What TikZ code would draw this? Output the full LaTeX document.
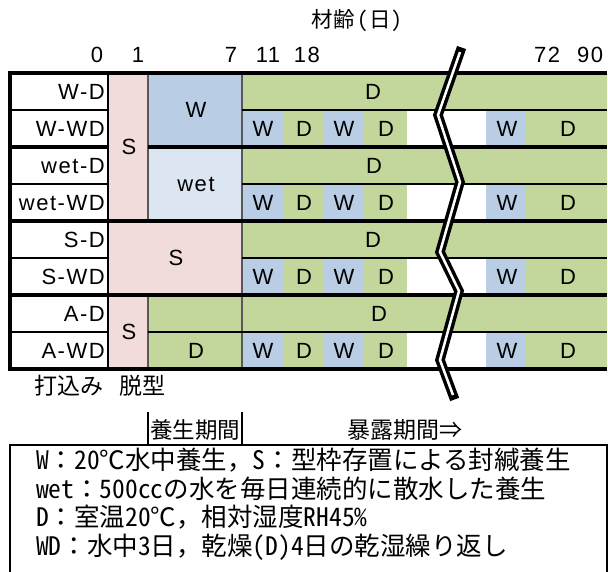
\documentclass[tikz,border=0pt]{standalone}
\usepackage{fontspec}
\setmainfont{Liberation Sans}
\newfontfamily\ar[LetterSpace=7]{Liberation Sans}
\newfontfamily\jp[RawFeature=+hwid]{Noto Sans CJK JP}
\newfontfamily\jpp{Noto Sans CJK JP}
\newcommand\hw[1]{{\jp #1}}
\definecolor{cS}{HTML}{F2DCDB}
\definecolor{cW}{HTML}{B9CDE5}
\definecolor{cWet}{HTML}{DCE6F2}
\definecolor{cD}{HTML}{C3D69B}
\definecolor{cGrid}{HTML}{595959}
\tikzset{
  lab/.style={font=\ar\fontsize{22}{25}\selectfont, inner sep=0pt, text height=15.75pt, text depth=0pt},
  jpt/.style={font=\jpp\fontsize{22}{25}\selectfont, inner sep=0pt, text height=19.4pt, text depth=2.6pt},
  jpb/.style={font=\jpp\fontsize{23}{26}\selectfont, inner sep=0pt, text height=20pt, text depth=3pt},
  leg/.style={font=\jpp\fontsize{25.5}{28}\selectfont, inner sep=0pt, anchor=west, text height=22.4pt, text depth=3.1pt},
  thickl/.style={line width=3.3pt},
  rowl/.style={line width=2.2pt},
  thinl/.style={line width=1.3pt, draw=cGrid},
}
\begin{document}
\begin{tikzpicture}[x=1pt,y=-1pt]
\useasboundingbox (0,0) rectangle (608,571);
% ---- fills ----
\fill[white] (10,73) rectangle (108,369);
\fill[cS] (108,73) rectangle (148,221);
\fill[cW] (148,73) rectangle (242,147);
\fill[cWet] (148,147) rectangle (242,221);
\fill[cS] (108,221) rectangle (242,295);
\fill[cS] (108,295) rectangle (148,369);
\fill[cD] (242,73) rectangle (607,110);
\fill[cD] (242,147) rectangle (607,184);
\fill[cD] (242,221) rectangle (607,258);
\fill[cD] (148,295) rectangle (607,332);
\fill[cD] (148,332) rectangle (242,369);
\foreach \ya/\yb in {110/147,184/221,258/295,332/369}{
  \fill[cW] (242,\ya) rectangle (283,\yb);
  \fill[cD] (283,\ya) rectangle (323,\yb);
  \fill[cW] (323,\ya) rectangle (364,\yb);
  \fill[cD] (364,\ya) rectangle (407,\yb);
  \fill[white] (407,\ya) rectangle (486,\yb);
  \fill[cW] (486,\ya) rectangle (526,\yb);
  \fill[cD] (526,\ya) rectangle (607,\yb);
}
% ---- thin grey verticals ----
\draw[thinl] (148,73) -- (148,221);
\draw[thinl] (148,295) -- (148,369);
\draw[thinl] (242,73) -- (242,369);
% ---- row lines ----
\foreach \y in {110,184,258}{
  \draw[rowl] (10,\y) -- (108,\y);
  \draw[rowl] (242,\y) -- (607,\y);
}
\draw[rowl] (10,332) -- (108,332);
\draw[rowl] (148,332) -- (607,332);
% ---- group lines ----
\draw[thickl] (10,147) -- (108,147);
\draw[thickl] (148,147) -- (607,147);
\draw[thickl] (10,221) -- (607,221);
\draw[thickl] (10,295) -- (607,295);
\draw[line width=2.8pt] (108,73) -- (108,369);
\draw[thickl] (607,73) -- (10,73) -- (10,369) -- (607,369);
% ---- header ----
\node[jpt, font=\jpp\fontsize{21.5}{24}\selectfont] (title) at (357,19) {材齢\kern3pt\hw{(}\kern1pt日\kern1pt\hw{)}};
\node[lab] (n0) at (97,55) {0};
\node[lab] (n1) at (138,55) {1};
\node[lab] (n7) at (231,55) {7};
\node[lab] (n11) at (268,55) {11};
\node[lab] (n18) at (307,55) {18};
\node[lab] (n72) at (547,55) {72};
\node[lab] (n90) at (590,55) {90};
% ---- row labels ----
\node[lab, anchor=east] (r1) at (105,91.5) {W-D};
\node[lab, anchor=east] (r2) at (105,128.5) {W-WD};
\node[lab, anchor=east] (r3) at (105,165.5) {wet-D};
\node[lab, anchor=east] (r4) at (105,202.5) {wet-WD};
\node[lab, anchor=east] (r5) at (105,239.5) {S-D};
\node[lab, anchor=east] (r6) at (105,276.5) {S-WD};
\node[lab, anchor=east] (r7) at (105,313.5) {A-D};
\node[lab, anchor=east] (r8) at (105,350.5) {A-WD};
% ---- block labels ----
\node[lab] (s1) at (129,147) {S};
\node[lab] (w1) at (196,110) {W};
\node[lab] (wet1) at (196,184) {wet};
\node[lab] (s2) at (176,258) {S};
\node[lab] (s3) at (129,332) {S};
\node[lab] (d1) at (373,91.5) {D};
\node[lab] (d3) at (374,165.5) {D};
\node[lab] (d5) at (373,239.5) {D};
\node[lab] (d7) at (379,313.5) {D};
\node[lab] (d8a) at (196,350.5) {D};
\foreach \y/\k in {128.5/a,202.5/b,276.5/c,350.5/d}{
  \node[lab] (wa\k) at (263,\y) {W};
  \node[lab] (da\k) at (304,\y) {D};
  \node[lab] (wb\k) at (344,\y) {W};
  \node[lab] (db\k) at (386,\y) {D};
  \node[lab] (wc\k) at (507,\y) {W};
  \node[lab] (dc\k) at (568,\y) {D};
}
% ---- break mark ----
\draw[line width=9.5pt, line cap=rect, line join=miter]
  (460,52) -- (438,115) -- (460,182) -- (440,252) -- (459,291) -- (440,360) -- (453,395);
\draw[line width=2.5pt, white, line join=miter]
  (460,52) -- (438,115) -- (460,182) -- (440,252) -- (459,291) -- (440,360) -- (453,395);
% ---- below table ----
\node[jpb] (uchi) at (69,386) {打込み};
\node[jpb] (datsu) at (142,386) {脱型};
\draw[line width=1.5pt] (148,412) -- (148,445);
\draw[line width=1.5pt] (242,412) -- (242,445);
\node[jpt, font=\jpp\fontsize{22.5}{25}\selectfont] (yojo) at (195,430) {養生期間};
\node[jpt, font=\jpp\fontsize{23}{25}\selectfont] (bakuro) at (405,430) {暴露期間⇒};
% ---- legend ----
\draw[line width=2.5pt] (10,580) -- (10,445) -- (607,445) -- (607,580);
\node[leg] (l1) at (36,460) {\hw{W}：\hw{20}℃水中養生，\hw{S}：型枠存置による封緘養生};
\node[leg] (l2) at (36,488.5) {\hw{wet}：\hw{500cc}の水を毎日連続的に散水した養生};
\node[leg] (l3) at (36,517) {\hw{D}：室温\hw{20}℃，相対湿度\hw{RH45\%}};
\node[leg] (l4) at (36,545.5) {\hw{WD}：水中\hw{3}日，乾燥\hw{(D)4}日の乾湿繰り返し};
\end{tikzpicture}
\end{document}
